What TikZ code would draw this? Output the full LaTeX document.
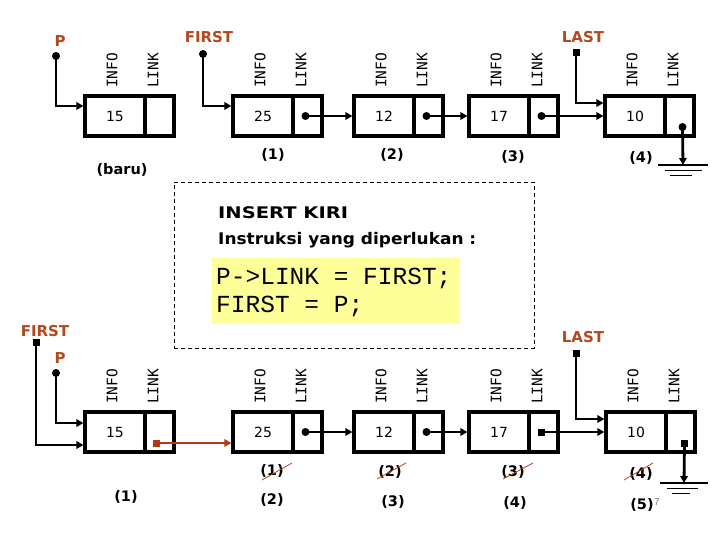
\documentclass[tikz,border=0pt]{standalone}
\usepackage{fontspec}
\usepackage{graphicx}
\setmainfont{DejaVu Sans}
\newfontfamily\monof{DejaVu Sans Mono}
\newfontfamily\codef{Liberation Mono}
\newfontfamily\slidef{Liberation Sans}
\usetikzlibrary{arrows.meta}
\definecolor{brn}{RGB}{181,72,30}
\definecolor{ylw}{RGB}{255,255,153}
\definecolor{redline}{RGB}{178,58,20}
\tikzset{
 infobox/.style={draw, line width=3.2pt, minimum width=60pt, minimum height=40pt, inner sep=0pt, font=\fontsize{14}{14}\selectfont},
 linkbox/.style={draw, line width=3.2pt, minimum width=29pt, minimum height=40pt, inner sep=0pt},
 fld/.style={rotate=90, anchor=west, inner sep=0pt, font=\monof\fontsize{14.5}{14.5}\selectfont},
 ptrlbl/.style={text=brn, font=\bfseries\fontsize{15}{15}\selectfont, inner sep=0pt},
 idx/.style={font=\bfseries\fontsize{14.5}{14.5}\selectfont, inner sep=0pt},
 ptr/.style={line width=2.8pt, -{Triangle[length=7pt,width=7.5pt]}},
 dotn/.style={circle, fill, inner sep=0pt, minimum size=8pt},
 sqdot/.style={rectangle, fill, inner sep=0pt, minimum size=7pt},
 strike/.style={brn, line width=0.8pt},
 gnd/.style={line width=1.3pt},
}
\newcommand\lnode[4]{%
 \node[infobox] (#1i) at (#2+30,#3) {#4};
 \node[linkbox] (#1l) at (#2+74.5,#3) {};
 \node[fld] (#1fi) at (#2+27,#3-28) {INFO};
 \node[fld] (#1fl) at (#2+68,#3-28) {LINK};
}
\begin{document}
\begin{tikzpicture}[x=1pt,y=-1pt]
\fill[white] (0,0) rectangle (720,540);
\useasboundingbox (0,0) rectangle (720,540);

% ---------- top row ----------
\lnode{a}{85}{116}{15}
\lnode{b}{233}{116}{25}
\lnode{c}{354}{116}{12}
\lnode{d}{469}{116}{17}
\lnode{e}{605}{116}{10}

\node[ptrlbl] (pa) at (60,41) {P};
\node[dotn] (pad) at (56,56) {};
\draw[ptr] (pad.center) |- ([yshift=10pt]ai.west);

\node[ptrlbl] (fa) at (209,37) {FIRST};
\node[dotn] (fad) at (203,54) {};
\draw[ptr] (fad.center) |- ([yshift=10pt]bi.west);

\node[ptrlbl] (la) at (583,37) {LAST};
\node[sqdot] (lad) at (576,53) {};
\draw[ptr] (lad.center) |- ([yshift=13pt]ei.west);

\node[dotn] (bd) at ([xshift=-2pt]bl.center) {};
\draw[ptr] (bd.center) -- (ci.west);
\node[dotn] (cd) at ([xshift=-2pt]cl.center) {};
\draw[ptr] (cd.center) -- (di.west);
\node[dotn] (dd) at ([xshift=-2pt]dl.center) {};
\draw[ptr] (dd.center) -- (ei.west);

\node[dotn] (ed) at ([xshift=3pt,yshift=-11pt]el.center) {};
\coordinate (eg) at (683,165);
\draw[ptr] (ed.center) -- (eg);
\draw[gnd] (658,165) -- (708,165);
\draw[gnd] (665,170.5) -- (702,170.5);
\draw[gnd] (670,175.5) -- (692,175.5);

\node[idx] (n1) at (273,155) {(1)};
\node[idx] (n2) at (392,155) {(2)};
\node[idx] (n3) at (513,157) {(3)};
\node[idx] (n4) at (641,158) {(4)};
\node[idx] (nb) at (122,170) {(baru)};

% ---------- instruction panel ----------
\node[draw, dashed, line width=0.8pt, dash pattern=on 4pt off 3pt, minimum width=360pt, minimum height=166pt, inner sep=0pt] (panel) at (354,265) {};
\node[fill=ylw, minimum width=248pt, minimum height=66pt, inner sep=0pt] (code) at (336,291) {};
\node[anchor=west, inner sep=0pt, font=\bfseries\fontsize{16}{16}\selectfont] (h1) at (218,213) {\scalebox{1.22}[1]{INSERT KIRI}};
\node[anchor=west, inner sep=0pt, font=\bfseries\fontsize{16}{16}\selectfont] (h2) at (218,240) {\scalebox{1.06}[1]{Instruksi yang diperlukan :}};
\node[anchor=west, inner sep=0pt, font=\codef\fontsize{24.5}{24.5}\selectfont] (c1) at (216,278) {P->LINK = FIRST;};
\node[anchor=west, inner sep=0pt, font=\codef\fontsize{24.5}{24.5}\selectfont] (c2) at (216,306) {FIRST = P;};

% ---------- bottom row ----------
\lnode{f}{85}{432}{15}
\lnode{g}{233}{432}{25}
\lnode{h}{354}{432}{12}
\lnode{k}{469}{432}{17}
\lnode{m}{606}{432}{10}

\node[ptrlbl] (fb) at (45,331) {FIRST};
\node[sqdot] (fbd) at (36,342) {};
\draw[ptr] (fbd.center) |- ([yshift=-13pt]fi.west);

\node[ptrlbl] (pb) at (60,358) {P};
\node[dotn] (pbd) at (56,373) {};
\draw[ptr] (pbd.center) |- ([yshift=9pt]fi.west);

\node[sqdot, fill=redline] (fd) at ([xshift=-3pt,yshift=-11pt]fl.center) {};
\draw[ptr, redline] (fd.center) -- (fd.center -| gi.west);

\node[dotn] (gd) at ([xshift=-2pt]gl.center) {};
\draw[ptr] (gd.center) -- (hi.west);
\node[dotn] (hd) at ([xshift=-2pt]hl.center) {};
\draw[ptr] (hd.center) -- (ki.west);
\node[sqdot] (kd) at ([xshift=-2pt]kl.center) {};
\draw[ptr] (kd.center) -- (mi.west);

\node[ptrlbl] (lb) at (583,337) {LAST};
\node[sqdot] (lbd) at (576,353) {};
\draw[ptr] (lbd.center) |- ([yshift=13pt]mi.west);

\node[sqdot] (md) at ([xshift=4pt,yshift=-11pt]ml.center) {};
\coordinate (mg) at (684,483);
\draw[ptr] (md.center) -- (mg);
\draw[line width=2pt] (660,483) -- (708,483);
\draw[gnd] (667,488.5) -- (698,488.5);
\draw[gnd] (672,493.5) -- (690,493.5);

\node[idx] (o1) at (272,471) {(1)};
\node[idx] (o2) at (390,472) {(2)};
\node[idx] (o3) at (513,472) {(3)};
\node[idx] (o4) at (641,474) {(4)};
\draw[strike] (262,480) -- (292,463);
\draw[strike] (377,479) -- (406,463);
\draw[strike] (503,479) -- (533,463);
\draw[strike] (624,480) -- (653,463);

\node[idx] (q1) at (126,497) {(1)};
\node[idx] (q2) at (272,500) {(2)};
\node[idx] (q3) at (393,502) {(3)};
\node[idx] (q4) at (515,503) {(4)};
\node[idx] (q5) at (642,505) {(5)};
\node[text=gray, inner sep=0pt, font=\slidef\fontsize{10}{10}\selectfont] (sn) at (657,502) {7};
\end{tikzpicture}
\end{document}
